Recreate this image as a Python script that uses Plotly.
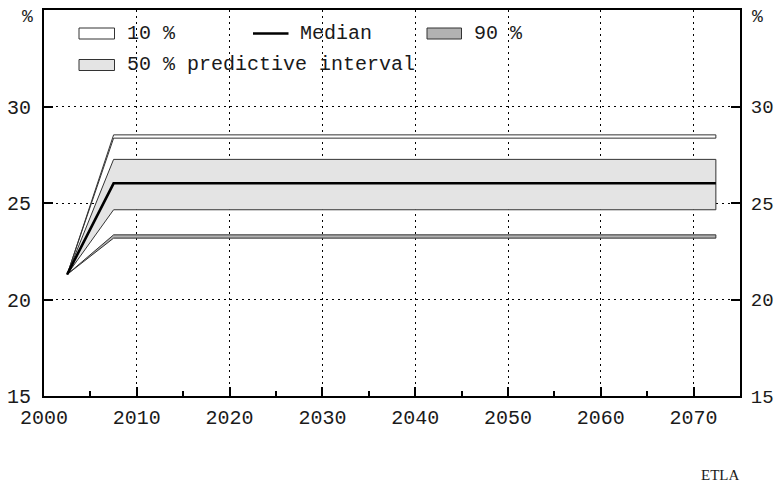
import plotly.graph_objects as go

# ---- data ----
years = [2002.5, 2007.5, 2072.4]
median = [21.3, 26.02, 26.02]
p10_hi = [21.3, 28.53, 28.53]
p10_lo = [21.3, 28.36, 28.36]
p50_hi = [21.3, 27.26, 27.26]
p50_lo = [21.3, 24.65, 24.65]
p90_hi = [21.3, 23.35, 23.35]
p90_lo = [21.3, 23.18, 23.18]

x_ticks = [2000, 2010, 2020, 2030, 2040, 2050, 2060, 2070]
y_ticks = [15, 20, 25, 30]

legend_labels = ["10 %", "Median", "90 %", "50 % predictive interval"]

FONT = "Liberation Mono, Courier New, monospace"
OUTLINE = "#333333"
FILL_10 = "#ffffff"
FILL_50 = "#e4e4e4"
FILL_90 = "#b2b2b2"
TEXT = "#1a1a1a"


def band(lo, hi, fill, name):
    return go.Scatter(
        x=years + years[::-1], y=hi + lo[::-1], fill="toself",
        fillcolor=fill, mode="lines", line=dict(color=OUTLINE, width=1),
        name=name, showlegend=False, hoverinfo="skip")


fig = go.Figure()
fig.add_trace(band(p50_lo, p50_hi, FILL_50, legend_labels[3]))
fig.add_trace(band(p10_lo, p10_hi, FILL_10, legend_labels[0]))
fig.add_trace(band(p90_lo, p90_hi, FILL_90, legend_labels[2]))
fig.add_trace(go.Scatter(x=years, y=median, mode="lines",
                         line=dict(color="black", width=2.6),
                         name=legend_labels[1], showlegend=False))
# invisible trace for right axis
fig.add_trace(go.Scatter(x=[years[0]], y=[median[0]], yaxis="y2",
                         mode="markers", marker=dict(opacity=0),
                         showlegend=False, hoverinfo="skip"))

L, R, T, B = 44, 35, 10, 87
W, H = 775, 483
pw, ph = W - L - R, H - T - B


def px(x):
    return (x - L) / pw


def py(y):
    return (H - B - y) / ph


# manual legend
boxes = [
    (79, 114.5, 33.5, FILL_10, 0),
    (427, 461.5, 33.5, FILL_90, 2),
    (79, 114.5, 65, FILL_50, 3),
]
for x0, x1, yc, fc, i in boxes:
    fig.add_shape(type="rect", xref="paper", yref="paper",
                  x0=px(x0), x1=px(x1), y0=py(yc + 5.5), y1=py(yc - 5.5),
                  fillcolor=fc, line=dict(color=OUTLINE, width=1))
    fig.add_annotation(xref="paper", yref="paper", x=px(x1 + 10), y=py(yc),
                       text=legend_labels[i], showarrow=False,
                       xanchor="left", yanchor="middle",
                       font=dict(family=FONT, size=20, color=TEXT))
fig.add_shape(type="line", xref="paper", yref="paper",
              x0=px(253), x1=px(288.5), y0=py(33.5), y1=py(33.5),
              line=dict(color="black", width=2.6))
fig.add_annotation(xref="paper", yref="paper", x=px(298), y=py(33.5),
                   text=legend_labels[1], showarrow=False,
                   xanchor="left", yanchor="middle",
                   font=dict(family=FONT, size=20, color=TEXT))

# % labels and source
for xp in (27, 757):
    fig.add_annotation(xref="paper", yref="paper", x=px(xp), y=py(17.5),
                       text="%", showarrow=False, xanchor="center",
                       yanchor="middle",
                       font=dict(family=FONT, size=18, color=TEXT))
fig.add_annotation(xref="paper", yref="paper", x=px(741), y=py(475),
                   text="ETLA", showarrow=False, xanchor="right",
                   yanchor="middle",
                   font=dict(family="Liberation Serif, Times New Roman, serif",
                             size=15, color=TEXT))

axis_common = dict(showline=True, linecolor="black", linewidth=2,
                   ticks="inside", tickcolor="black", tickwidth=2,
                   ticklen=9, zeroline=False, automargin=False)

fig.update_layout(
    width=W, height=H,
    margin=dict(l=L, r=R, t=T, b=B, autoexpand=False),
    paper_bgcolor="white", plot_bgcolor="white",
    showlegend=False,
    xaxis=dict(range=[2000, 2075], tickvals=x_ticks, mirror=True,
               showgrid=True, gridcolor="black", gridwidth=1,
               griddash="2px,4px", ticklabelstandoff=2,
               tickfont=dict(family=FONT, size=20, color=TEXT),
               minor=dict(dtick=5, tick0=2000, ticks="inside", ticklen=5,
                          tickcolor="black", tickwidth=2, showgrid=False),
               **axis_common),
    yaxis=dict(range=[15, 35], tickvals=y_ticks, mirror=True,
               showgrid=True, gridcolor="black", gridwidth=1,
               griddash="2px,4px", ticklabelstandoff=7,
               tickfont=dict(family=FONT, size=20, color=TEXT),
               **axis_common),
    yaxis2=dict(range=[15, 35], tickvals=y_ticks, overlaying="y",
                side="right", showgrid=False, ticklabelstandoff=5,
                tickfont=dict(family=FONT, size=19, color=TEXT),
                **axis_common),
)

fig.write_html("out.html")
